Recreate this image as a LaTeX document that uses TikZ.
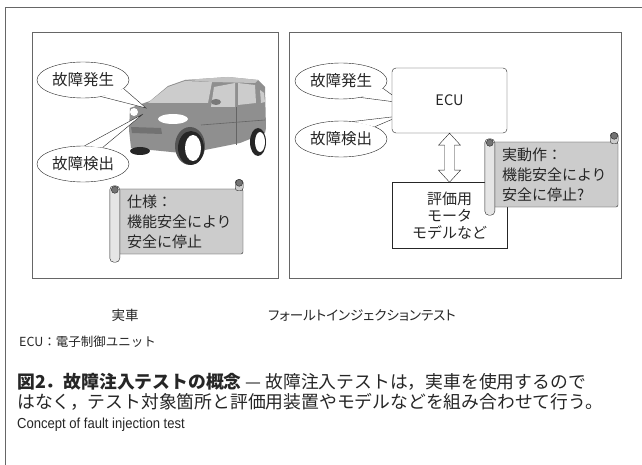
\documentclass[tikz,border=0pt]{standalone}
\usepackage{fontspec}
\setmainfont{Noto Sans CJK JP}
\newfontfamily\paltfont{Noto Sans CJK JP}[RawFeature=+palt]
\newfontfamily\narrowfont{Liberation Sans}[FakeStretch=0.9]
\usepackage{tikz}
\usetikzlibrary{positioning, calc, shapes.geometric}
\usepackage{xcolor}
\definecolor{framegray}{gray}{0.4}
\definecolor{inkgray}{gray}{0.15}
\definecolor{bodygray}{gray}{0.56}
\definecolor{glassgray}{gray}{0.8}
\definecolor{scrollgray}{gray}{0.8}
\definecolor{rollgray}{gray}{0.9}
\definecolor{capgray}{gray}{0.45}

\newcommand{\bubblefont}{\fontsize{15.5}{18}\selectfont}
\newcommand{\scrollfont}{\fontsize{15}{20}\selectfont}
\newcommand{\evalfont}{\fontsize{15}{17}\selectfont}
\newcommand{\labelfont}{\fontsize{13.5}{15}\selectfont}
\newcommand{\capfont}{\fontsize{17.8}{20}\selectfont}

\begin{document}
\begin{tikzpicture}[x=1pt, y=-1pt,
        panel/.style={draw=framegray, line width=0.8pt},
        bubble/.style={ellipse, draw=inkgray, fill=white, minimum width=92, minimum height=36, inner sep=0pt, font=\bubblefont, text=inkgray},
        banner/.style={rectangle, draw=inkgray, fill=scrollgray, rounded corners=2pt, text width=107, inner xsep=9, minimum height=65, align=left, font=\scrollfont, text=inkgray},
        unitbox/.style={rectangle, draw=inkgray, fill=white, minimum width=115, minimum height=65, align=center, text=inkgray},
        seam/.style={draw=bodygray!70!black, line width=0.6pt},
        caption/.style={anchor=west, inner sep=0pt, text=inkgray}
    ]
        \useasboundingbox (0,0) rectangle (642,465);
        \fill[white] (0,0) rectangle (642,465);
        \draw[framegray, line width=0.6pt] (642,7) -- (5,7) -- (5,465);

        \draw[panel] (32,32) rectangle (278,278);
        \draw[panel] (289,32) rectangle (621,278);

        % car
        \fill[bodygray] (130,108) -- (150,101) -- (168,86) -- (185,80) -- (228,77) -- (258,80) -- (265,87) -- (266,128) -- (265,133) -- (240,143) -- (205,150) -- (181,153) -- (131,148) -- (129,130) -- cycle;
        \fill[glassgray!85!bodygray] (185,80) -- (228,77) -- (258,80) -- (255,83) -- (212,82) -- cycle;
        \fill[glassgray] (148,103) -- (168,87) -- (185,81) -- (212,82) -- (208,103) -- cycle;
        \fill[glassgray] (214,87) -- (235,83) -- (235,107) -- (211,107) -- cycle;
        \fill[glassgray] (238,83) -- (255,85) -- (256,103) -- (238,105) -- cycle;
        \fill[glassgray] (260,90) -- (264,93) -- (265,102) -- (261,103) -- cycle;
        \fill[bodygray!85!black] (216,102) ellipse (5 and 3);
        \fill[bodygray!80!black] (131,127) -- (161,128) -- (162,134) -- (132,133) -- cycle;
        \fill[white] (173,119) ellipse (15 and 5);
        \fill[white] (134,112) ellipse (4 and 4);
        \draw[seam] (236,107) -- (236,145);
        \draw[seam] (201,125) -- (265,120);
        \fill[black!85] (140,151) ellipse (10 and 4);
        \fill[bodygray!60!black] (190,146) ellipse (15 and 19);
        \fill[black!85] (191,148) ellipse (13 and 17);
        \fill[white] (193,148) ellipse (8 and 13);
        \fill[black!85] (258,142) ellipse (8 and 14);
        \fill[white] (260,142) ellipse (5 and 10);

        % callouts
        \node[bubble] (faultL) at (83,80) {故障発生};
        \node[bubble] (detectL) at (83,164) {故障検出};
        \node[bubble] (faultR) at (341,81) {故障発生};
        \node[bubble] (detectR) at (341,139) {故障検出};
        \coordinate (tipLa) at (146,108);
        \coordinate (tipLb) at (143,114);
        \coordinate (tipRa) at (403,103);
        \coordinate (tipRb) at (400,116);
        \fill[white] (faultL.-12) -- (tipLa) -- (faultL.-42) -- cycle;
        \draw[inkgray] (faultL.-12) -- (tipLa) -- (faultL.-42);
        \fill[white] (detectL.85) -- (tipLb) -- (detectL.40) -- cycle;
        \draw[inkgray] (detectL.85) -- (tipLb) -- (detectL.40);
        \fill[white] (faultR.-10) -- (tipRa) -- (faultR.-40) -- cycle;
        \draw[inkgray] (faultR.-10) -- (tipRa) -- (faultR.-40);
        \fill[white] (detectR.55) -- (tipRb) -- (detectR.20) -- cycle;
        \draw[inkgray] (detectR.55) -- (tipRb) -- (detectR.20);

        % ECU and test bench
        \node[unitbox, rounded corners=4pt, font=\fontsize{14.5}{16}\selectfont] (ecu) at (449.5,100.5) {ECU};
        \node[unitbox, below=49pt of ecu, minimum height=66, font=\evalfont] (eval) {評価用\\モータ\\モデルなど};
        \draw[inkgray, fill=white] (ecu.south) -- ++(11,12) -- ++(-6,0) -- ($(eval.north)+(5,-12)$) -- ++(6,0) -- (eval.north) -- ++(-11,-12) -- ++(6,0) -- ($(ecu.south)+(-5,12)$) -- ++(-6,0) -- cycle;

        % scrolls
        \node[banner] (spec) at (180.5,221.5) {仕様：\\機能安全により\\安全に停止};
        \node[banner] (actual) at (555.5,174.5) {実動作：\\機能安全により\\安全に停止?};
        \foreach \s in {spec, actual} {
            \draw[inkgray, fill=rollgray, rounded corners=4pt] ($(\s.north west)+(-8,-3)$) rectangle ($(\s.south west)+(2,8)$);
            \draw[inkgray, fill=capgray] ($(\s.north west)+(-3,1)$) circle (3.5);
            \draw[inkgray, fill=scrollgray, rounded corners=3pt] ($(\s.north east)+(-8,2)$) rectangle ($(\s.north east)+(0,-9)$);
            \draw[inkgray, fill=capgray] ($(\s.north east)+(-4,-6)$) circle (3.5);
        }

        % labels and caption
        \node[text=inkgray, font=\labelfont] (carlabel) at (125,315) {実車};
        \node[text=inkgray, font=\labelfont] (testlabel) at (362,315) {\paltfont フォールトインジェクションテスト};
        \node[caption, font=\fontsize{12.5}{14}\selectfont] (abbr) at (19,342) {ECU：電子制御ユニット};
        \node[caption, font=\capfont] (cap1) at (17,382) {{\bfseries 図2．故障注入テストの概念} — 故障注入テストは，実車を使用するので};
        \node[caption, font=\capfont] (cap2) at (17,402) {はなく，テスト対象箇所と評価用装置やモデルなどを組み合わせて行う。};
        \node[caption, font=\fontsize{14.5}{16}\selectfont] (cap3) at (17,425) {\narrowfont Concept of fault injection test};
    \end{tikzpicture}
\end{document}
